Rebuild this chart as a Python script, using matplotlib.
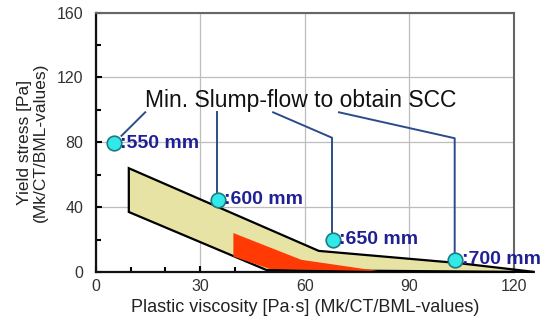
import matplotlib.pyplot as plt
from matplotlib.patches import Polygon
from matplotlib.ticker import MultipleLocator

plt.rcParams['font.family'] = ['Liberation Sans', 'DejaVu Sans']

# SCC zone (yellow) and target zone (red) outlines
zone_x = [9.5, 64, 104, 126, 49, 9.5]
zone_y = [64, 13, 5.5, 0, 1.2, 37]
core_x = [39.5, 59, 81, 50, 39.5]
core_y = [24, 7.5, 0.6, 1.8, 9.5]

# minimum slump-flow points
pv = [5.3, 35.1, 68.0, 103.2]
ys = [79.5, 44.5, 19.8, 7.4]
flow_labels = [':550 mm', ':600 mm', ':650 mm', ':700 mm']

# leader lines from the caption to each point
leaders = [
    ([14.2, 7.4], [98.5, 84.0]),
    ([34.8, 34.8], [98.5, 49.5]),
    ([50.9, 67.8, 67.8], [98.5, 82.8, 24.5]),
    ([69.8, 103.0, 103.0], [98.5, 82.5, 12.0]),
]

fig = plt.figure(figsize=(5.45, 3.23), dpi=100)
ax = fig.add_axes([0.1756, 0.158, 0.7674, 0.803])

ax.add_patch(Polygon(list(zip(zone_x, zone_y)), closed=True, facecolor='#e6e3a5',
                     edgecolor='black', linewidth=1.6, zorder=3, clip_on=False))
ax.add_patch(Polygon(list(zip(core_x, core_y)), closed=True, facecolor='#ff3a05',
                     edgecolor='none', zorder=4))

for lx, ly in leaders:
    ax.plot(lx, ly, color='#2b4c8c', linewidth=1.4, zorder=5)

ax.plot(pv, ys, 'o', markersize=10.5, markerfacecolor='#33e8e8',
        markeredgecolor='#1d7c80', markeredgewidth=1.2, zorder=6, clip_on=False)
for x, y, s in zip(pv, ys, flow_labels):
    ax.annotate(s, (x, y), xytext=(4.5, 0), textcoords='offset points',
                ha='left', va='center', fontsize=14, fontweight='bold',
                color='#1f1f96', zorder=7, annotation_clip=False)

ax.text(14.2, 101.6, 'Min. Slump-flow to obtain SCC', fontsize=16.5,
        color='#111111', ha='left', va='baseline', zorder=7)

ax.set_xlim(0, 120)
ax.set_ylim(0, 160)
ax.xaxis.set_major_locator(MultipleLocator(30))
ax.xaxis.set_minor_locator(MultipleLocator(10))
ax.yaxis.set_major_locator(MultipleLocator(40))
ax.yaxis.set_minor_locator(MultipleLocator(20))
ax.grid(True, which='major', color='#bdbdbd', linewidth=0.9)
ax.set_axisbelow(True)
ax.tick_params(which='both', direction='in', width=1.5, color='black',
               labelsize=11.5, labelcolor='#333333')
ax.tick_params(which='major', length=4)
ax.tick_params(which='minor', length=3.5)
ax.tick_params(axis='y', pad=9)
ax.tick_params(axis='x', pad=5)

for side in ['left', 'bottom']:
    ax.spines[side].set_linewidth(1.6)
    ax.spines[side].set_color('#111111')
for side in ['top', 'right']:
    ax.spines[side].set_linewidth(1.5)
    ax.spines[side].set_color('#666666')

ax.set_xlabel('Plastic viscosity [Pa\u00b7s] (Mk/CT/BML-values)', fontsize=13,
              color='#222222', labelpad=4)
ax.set_ylabel('Yield stress [Pa]\n(Mk/CT/BML-values)', fontsize=12.5,
              color='#222222', labelpad=6, linespacing=1.1)

fig.savefig('out.png', dpi=100)
